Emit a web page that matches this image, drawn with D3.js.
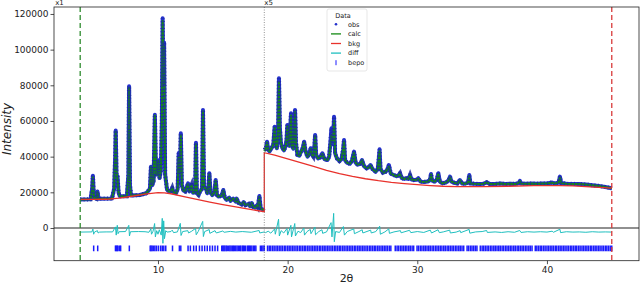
<!DOCTYPE html>
<html>
<head>
<meta charset="utf-8">
<script src="https://cdn.jsdelivr.net/npm/d3@7/dist/d3.min.js"></script>
<style>
  body { margin: 0; background: #fff; }
  svg { display: block; font-family: "DejaVu Sans", sans-serif; }
</style>
</head>
<body>
<div id="chart"></div>
<script>
// powder pattern: [2theta, obs, calc]
// (values above the break at 18.2 are the displayed x5 values)
const profile = [
  [4.00,16000,16000],[4.80,16100,16100],[4.92,22000,21500],[4.98,29300,28500],[5.06,17000,17000],
  [5.25,16400,16400],[5.33,20400,20000],[5.42,16400,16400],[6.45,16500,16500],[6.62,22000,22000],
  [6.70,40000,42000],[6.74,54600,54000],[6.80,30000,32000],[6.88,28800,27000],[6.96,20000,20000],
  [7.05,17800,17800],[7.60,17800,17800],[7.72,30000,30000],[7.77,79500,78500],[7.84,24000,24000],
  [7.92,18200,18200],[8.60,18500,18500],[9.10,19500,19500],[9.38,22000,22000],[9.46,34400,34000],
  [9.55,24000,24000],[9.66,26000,26000],[9.76,63500,63000],[9.85,30000,30000],[9.96,30000,30000],
  [10.03,38000,37500],[10.12,28000,28000],[10.22,32000,32000],[10.30,60000,60000],[10.36,117600,116000],
  [10.42,80000,85000],[10.47,104000,102000],[10.55,30000,30000],[10.70,21500,21500],[10.85,20500,20500],
  [11.00,20800,20800],[11.10,22500,22500],[11.20,20000,20000],[11.40,19500,19500],[11.52,22000,22000],
  [11.60,42000,40000],[11.66,30000,31000],[11.72,40000,40000],[11.76,53100,52000],[11.84,24000,24000],
  [11.96,21000,21000],[12.10,20500,20500],[12.22,23000,23000],[12.32,25000,24500],[12.42,20500,20500],
  [12.50,22500,22500],[12.60,24300,24000],[12.70,19800,19800],[12.86,20000,20000],[12.93,47800,47000],
  [13.00,19500,19500],[13.13,18500,18500],[13.25,20500,20500],[13.40,22000,22000],[13.47,66200,65500],
  [13.55,23000,23000],[13.70,22000,22000],[13.80,19500,19500],[13.90,24000,24000],[13.96,30700,30000],
  [14.05,20000,20000],[14.19,18400,18400],[14.35,20000,20000],[14.45,26900,26500],[14.55,18500,18500],
  [14.65,17600,17600],[14.90,18000,18000],[15.04,21300,21000],[15.15,17000,17000],[15.30,15800,15800],
  [15.50,17000,17000],[15.60,15200,15200],[15.80,16500,16500],[16.00,14800,14800],[16.07,16500,16500],
  [16.20,14200,14200],[16.46,13200,13200],[16.60,14500,14500],[16.75,12800,12800],[17.00,13500,13500],
  [17.10,12200,12200],[17.23,14000,14000],[17.35,11800,11800],[17.48,11400,11400],[17.60,12500,12500],
  [17.70,11500,11500],[17.82,17900,17500],[17.92,11000,11000],[18.05,10500,10500],[18.18,9600,9600],
  [18.20,43700,43000],[18.32,44500,44500],[18.41,48400,48000],[18.50,44000,44000],[18.60,43000,43000],
  [18.78,45000,45000],[18.90,47000,47000],[19.00,56800,56000],[19.10,46000,46000],[19.17,44700,44700],
  [19.26,52000,52000],[19.33,83900,82000],[19.40,56000,56000],[19.48,48000,48000],[19.58,45000,45000],
  [19.72,43500,43500],[19.85,46000,46000],[19.92,50000,50000],[19.98,57800,57000],[20.06,48000,48000],
  [20.14,46000,46000],[20.26,64300,63000],[20.34,46000,46000],[20.44,44500,44500],[20.50,50000,50000],
  [20.57,66200,65000],[20.64,48000,48000],[20.75,41000,41000],[20.90,40500,40500],[21.05,43000,43000],
  [21.18,45000,45000],[21.27,48400,48000],[21.38,43000,43000],[21.53,40000,40000],[21.65,41500,41500],
  [21.78,44700,44300],[21.88,41000,41000],[21.98,40000,40000],[22.05,44000,44000],[22.12,52200,51500],
  [22.20,41000,41000],[22.35,39000,39000],[22.50,39500,39500],[22.68,41900,41500],[22.85,38500,38500],
  [23.07,38100,38100],[23.20,40000,40000],[23.30,48000,47000],[23.38,55900,52000],[23.46,47000,49000],
  [23.52,50000,52000],[23.58,62400,60000],[23.66,42000,42000],[23.80,39000,39000],[24.00,37500,37500],
  [24.15,38500,38500],[24.28,44000,44000],[24.35,49300,48500],[24.43,38000,38000],[24.60,36500,36500],
  [24.80,36000,36000],[24.95,37500,37500],[25.12,42800,42300],[25.25,36500,36500],[25.40,35500,35500],
  [25.60,36000,36000],[25.74,38100,38000],[25.90,34500,34500],[26.10,33500,33500],[26.25,34000,34000],
  [26.39,35300,35000],[26.55,33000,33000],[26.78,31500,31500],[26.95,33000,33000],[27.02,38000,38000],
  [27.09,44100,43000],[27.16,33000,33000],[27.35,31000,31000],[27.55,31500,31500],[27.70,33000,33000],
  [27.81,35300,34500],[27.95,30500,30500],[28.10,30000,30000],[28.40,29000,29000],[28.55,29500,29500],
  [28.67,30700,30500],[28.80,28000,28000],[29.00,27500,27500],[29.20,28000,28000],[29.32,27500,27500],
  [29.44,29700,29500],[29.56,27200,27200],[29.75,26900,26900],[29.95,27000,27000],[30.08,27900,27700],
  [30.25,26000,26000],[30.50,25800,25800],[30.80,26000,26000],[30.98,27000,27000],[31.06,30300,30000],
  [31.14,26500,26500],[31.35,26000,26000],[31.50,27000,27000],[31.62,30700,30300],[31.74,26000,26000],
  [31.95,25000,25000],[32.20,25500,25500],[32.40,26500,26500],[32.52,28800,28500],[32.64,26000,26000],
  [32.90,25200,25200],[33.10,25000,25000],[33.29,26900,26700],[33.45,25000,25000],[33.70,24800,24800],
  [33.92,25500,25500],[34.01,29700,29200],[34.10,25000,25000],[34.40,24800,24800],[34.80,24600,24600],
  [35.10,24800,24800],[35.35,25600,25500],[35.60,24600,24600],[36.00,24700,24700],[36.40,24900,24900],
  [36.80,24600,24600],[37.20,24800,24800],[37.60,24700,24700],[37.85,25300,25300],[37.92,26400,26200],
  [38.00,25000,25000],[38.40,24800,24800],[38.80,24900,24900],[39.20,24800,24800],[39.60,25000,25000],
  [40.00,24900,24900],[40.40,25500,25400],[40.60,24900,24900],[40.90,25500,25500],[41.00,28800,28300],
  [41.10,25200,25200],[41.50,24800,24800],[42.00,24700,24700],[42.50,24600,24600],[43.00,24400,24400],
  [43.50,24000,24000],[44.00,23600,23600],[44.50,23000,23000],[45.00,22300,22300]
];

const background = [
  [4.0,16000],[5.0,16000],[6.0,16100],[7.0,16700],[8.0,17800],[9.0,19000],[10.0,19800],[10.5,19700],
  [11.0,19200],[12.0,17600],[13.0,16000],[14.0,14500],[15.0,13100],[16.0,11800],[17.0,10600],[18.2,9100],
  [18.2,42200],[19,40800],[20,38800],[21,36700],[22,34500],[23,32300],[24,30500],[25,28900],[26,27600],
  [27,26500],[28,25600],[29,24900],[30,24300],[31,23800],[32,23400],[33,23200],[35,23200],[37,23400],
  [39,23700],[41,23800],[42,23600],[43,23200],[44,22800],[45,22300]
];

const difference = [
  [4.0,-2300],[4.9,-2200],[4.98,-600],[5.04,-3500],[5.1,-2300],[5.33,-1500],[5.38,-2800],[5.5,-2300],
  [6.0,-2200],[6.5,-2200],[6.72,600],[6.78,-4000],[6.86,1500],[6.92,-3200],[7.0,-2100],[7.5,-2000],
  [7.75,1500],[7.8,-4500],[7.88,-2100],[8.5,-2000],[9.0,-2100],[9.3,-2400],[9.45,-500],[9.5,-3500],
  [9.62,-1800],[9.74,2500],[9.8,-5000],[9.9,-1500],[10.0,-3500],[10.1,-1000],[10.25,-4000],[10.33,5400],
  [10.38,-8600],[10.44,4000],[10.5,-6000],[10.6,-1500],[10.7,-2300],[11.0,-2000],[11.1,-1200],[11.2,-2600],
  [11.5,-2200],[11.72,2600],[11.78,-4200],[11.9,-2000],[12.3,-1500],[12.36,-2800],[12.6,-1800],[12.9,-200],
  [12.95,-3800],[13.1,-2000],[13.45,3700],[13.5,-4800],[13.6,-2000],[13.95,-900],[14.0,-3000],[14.4,-1500],
  [14.5,-2800],[15.0,-1700],[15.1,-2400],[15.6,-1900],[16.0,-2300],[16.5,-2000],[17.2,-2400],[17.8,-1400],
  [17.85,-2800],[18.2,-2200],[18.3,-2600],[18.5,-1800],[18.7,-2900],[19.0,-500],[19.05,-3500],[19.3,4900],
  [19.36,-4500],[19.5,-1500],[19.7,-2800],[19.95,-300],[20.0,-4000],[20.25,1500],[20.3,-5000],[20.55,2500],
  [20.6,-4500],[20.8,-1800],[21.0,-2600],[21.25,0],[21.3,-4000],[21.5,-2000],[21.75,-800],[21.8,-3200],
  [22.1,500],[22.15,-3800],[22.4,-2000],[22.65,-1000],[22.7,-3000],[23.0,-2200],[23.35,3000],[23.42,-5000],
  [23.55,8200],[23.6,-7700],[23.7,-2000],[24.0,-2500],[24.3,800],[24.38,-4000],[24.6,-2000],[25.1,-500],
  [25.15,-3200],[25.5,-2000],[25.75,-1000],[25.8,-2800],[26.4,-1200],[26.45,-2800],[26.8,-2000],[27.1,1000],
  [27.15,-3500],[27.5,-2200],[27.8,-500],[27.85,-3000],[28.2,-2200],[28.7,-1500],[28.75,-2700],[29.4,-1300],
  [29.5,-2600],[30.0,-2000],[30.5,-2500],[31.0,-1200],[31.1,-2800],[31.6,-1000],[31.7,-2600],[32.0,-2200],
  [32.5,-1200],[32.55,-2800],[33.0,-2300],[33.3,-1500],[33.35,-2600],[34.0,-800],[34.05,-2900],[34.5,-2200],
  [35.0,-2000],[35.35,-1400],[35.4,-2500],[36.0,-2200],[36.5,-2500],[37.0,-2100],[37.5,-2400],[37.9,-1400],
  [38.0,-2500],[38.5,-2100],[39.0,-2300],[39.5,-2100],[40.0,-2300],[40.4,-1800],[40.5,-2400],[41.0,-700],
  [41.05,-2600],[41.5,-2100],[42.0,-2300],[42.5,-2200],[43.0,-2400],[43.5,-2100],[44.0,-2300],[44.5,-2200],
  [45.0,-2300]
];

// bepo reflection positions (2theta)
const reflections = [
  5.04,5.35,6.72,6.78,6.86,6.92,7.05,7.12,7.79,9.40,9.47,9.55,9.65,9.76,9.88,10.03,10.20,10.33,10.45,10.60,
  11.12,11.65,11.76,12.32,12.50,12.75,12.95,13.20,13.40,13.60,13.80,14.00,14.20,14.40,14.60,
  14.92,15.00,15.08,15.16,15.26,15.34,15.46,15.55,15.64,15.74,15.82,15.90,16.00,16.10,16.20,16.30,16.38,
  16.50,16.58,16.66,16.76,16.90,16.98,17.06,17.14,17.24,17.36,17.45,17.55,17.90,18.00,18.10,18.20,
  18.45,18.58,18.70,18.84,18.96,19.10,19.22,19.35,19.48,19.60,19.74,19.86,20.00,20.12,20.25,20.38,20.50,
  20.64,20.76,20.90,21.02,21.15,21.28,21.40,21.54,21.66,21.80,21.92,22.05,22.18,22.30,22.44,22.56,22.70,
  22.82,22.95,23.08,23.20,23.34,23.46,23.60,23.72,23.85,23.98,24.10,24.24,24.36,24.50,24.62,24.75,24.88,
  25.00,25.14,25.26,25.40,25.52,25.65,25.78,25.90,26.04,26.16,26.30,26.42,26.55,26.68,26.80,26.94,27.06,
  27.20,27.32,27.45,27.58,27.70,27.84,27.96,28.30,28.44,28.56,28.70,28.82,28.95,29.08,29.20,29.34,29.46,
  29.60,29.72,29.98,30.10,30.24,30.36,30.50,30.62,30.75,30.88,31.00,31.14,31.26,31.40,31.52,31.65,31.78,
  31.90,32.04,32.16,32.30,32.42,32.55,32.68,32.80,32.94,33.06,33.20,33.32,33.45,33.58,33.84,33.96,34.10,
  34.22,34.35,34.48,34.60,34.86,35.00,35.12,35.25,35.38,35.50,35.64,35.76,35.90,36.02,36.15,36.28,36.40,
  36.54,36.66,36.80,36.92,37.05,37.18,37.30,37.44,37.56,37.70,37.82,37.95,38.08,38.20,38.34,38.46,38.60,
  38.72,38.85,39.10,39.22,39.35,39.48,39.60,39.74,39.86,40.00,40.12,40.25,40.38,40.50,40.64,40.76,40.90,
  41.02,41.15,41.28,41.40,41.54,41.66,41.80,41.92,42.05,42.18,42.30,42.44,42.56,42.70,42.82,42.95,43.08,
  43.20,43.34,43.46,43.60,43.72,43.85,43.98,44.10,44.24,44.36,44.50,44.62,44.75,44.88,45.00
];

const xTicks = [10, 20, 30, 40];
const yTicks = [0, 20000, 40000, 60000, 80000, 100000, 120000];
const legendNames = ["obs", "calc", "bkg", "diff", "bepo"];
const scaleBreak = 18.2;
const rangeLimits = [4.0, 45.0];

const W = 640, H = 285;
const margin = { top: 7, right: 1, bottom: 24.3, left: 54 };

const svg = d3.select("#chart").append("svg")
  .attr("width", W).attr("height", H);

const x = d3.scaleLinear().domain([1.98, 47.1]).range([margin.left, W - margin.right]);
const y = d3.scaleLinear().domain([-18340, 123900]).range([H - margin.bottom, margin.top]);

svg.append("defs").append("clipPath").attr("id", "clip")
  .append("rect")
  .attr("x", margin.left).attr("y", margin.top)
  .attr("width", W - margin.left - margin.right)
  .attr("height", H - margin.top - margin.bottom);

const plot = svg.append("g").attr("clip-path", "url(#clip)");

// reflection ticks
plot.append("g").selectAll("line")
  .data(reflections)
  .join("line")
  .attr("x1", d => x(d)).attr("x2", d => x(d))
  .attr("y1", y(-9800)).attr("y2", y(-13100))
  .attr("stroke", "#1a1aff").attr("stroke-width", 1.5);

// zero line
plot.append("line")
  .attr("x1", margin.left).attr("x2", W - margin.right)
  .attr("y1", y(0)).attr("y2", y(0))
  .attr("stroke", "#222").attr("stroke-width", 1.2);

// difference curve
plot.append("path")
  .datum(difference)
  .attr("fill", "none")
  .attr("stroke", "#1fbfbf").attr("stroke-width", 1)
  .attr("d", d3.line().x(d => x(d[0])).y(d => y(d[1])));

const lowPart = profile.filter(d => d[0] < scaleBreak);
const highPart = profile.filter(d => d[0] >= scaleBreak);
const obsLine = d3.line().x(d => x(d[0])).y(d => y(d[1]));
const calcLine = d3.line().x(d => x(d[0])).y(d => y(d[2]));

[lowPart, highPart].forEach(part => {
  // observed points: dense markers form a band
  plot.append("path").datum(part)
    .attr("fill", "none").attr("stroke", "#2431cc")
    .attr("stroke-width", 4).attr("stroke-linejoin", "round")
    .attr("d", obsLine);
  plot.append("path").datum(part)
    .attr("fill", "none").attr("stroke", "#158a15")
    .attr("stroke-width", 2).attr("stroke-linejoin", "round")
    .attr("d", calcLine);
  plot.append("path").datum(part)
    .attr("fill", "none").attr("stroke", "#1c2d9e").attr("stroke-opacity", 0.85)
    .attr("stroke-width", 4.2).attr("stroke-dasharray", "1 2.4")
    .attr("d", obsLine);
});

// background
plot.append("path")
  .datum(background)
  .attr("fill", "none")
  .attr("stroke", "#e8322c").attr("stroke-width", 1.3)
  .attr("d", d3.line().x(d => x(d[0])).y(d => y(d[1])));

// limit lines and scale break marker
const yTop = margin.top, yBot = H - margin.bottom;
plot.append("line")
  .attr("x1", x(rangeLimits[0])).attr("x2", x(rangeLimits[0]))
  .attr("y1", yTop).attr("y2", yBot)
  .attr("stroke", "#2e8b2e").attr("stroke-width", 1.3).attr("stroke-dasharray", "5 3");
plot.append("line")
  .attr("x1", x(rangeLimits[1])).attr("x2", x(rangeLimits[1]))
  .attr("y1", yTop).attr("y2", yBot)
  .attr("stroke", "#d83a3a").attr("stroke-width", 1.3).attr("stroke-dasharray", "5 3");
plot.append("line")
  .attr("x1", x(scaleBreak)).attr("x2", x(scaleBreak))
  .attr("y1", yTop).attr("y2", yBot)
  .attr("stroke", "#777").attr("stroke-width", 0.8).attr("stroke-dasharray", "1 1.5");

svg.append("text").attr("x", x(rangeLimits[0]) - 25).attr("y", 5)
  .attr("font-size", 7).attr("fill", "#222").text("x1");
svg.append("text").attr("x", x(scaleBreak)).attr("y", 5)
  .attr("font-size", 7).attr("fill", "#222").text("x5");

// axes
const xAxis = svg.append("g")
  .attr("transform", "translate(0," + yBot + ")")
  .call(d3.axisBottom(x).tickValues(xTicks).tickSize(3.5).tickPadding(2).tickFormat(d3.format("d")));
const yAxis = svg.append("g")
  .attr("transform", "translate(" + margin.left + ",0)")
  .call(d3.axisLeft(y).tickValues(yTicks).tickSize(3.5).tickPadding(2).tickFormat(d3.format("d")));
[xAxis, yAxis].forEach(a => {
  a.select(".domain").remove();
  a.selectAll("text").attr("font-size", 9).attr("font-family", "DejaVu Sans").attr("fill", "#222");
  a.selectAll("line").attr("stroke", "#222").attr("stroke-width", 0.8);
});

svg.append("rect")
  .attr("x", margin.left).attr("y", margin.top)
  .attr("width", W - margin.left - margin.right)
  .attr("height", H - margin.top - margin.bottom)
  .attr("fill", "none").attr("stroke", "#222").attr("stroke-width", 0.8);

svg.append("text")
  .attr("x", (margin.left + W - margin.right) / 2).attr("y", 282)
  .attr("text-anchor", "middle").attr("font-size", 11).attr("fill", "#222")
  .text("2θ");
svg.append("text")
  .attr("transform", "translate(11," + 129 + ") rotate(-90)")
  .attr("text-anchor", "middle").attr("font-size", 12).attr("font-style", "italic").attr("fill", "#222")
  .text("Intensity");

// legend
const lg = svg.append("g").attr("transform", "translate(327,9)");
lg.append("rect").attr("width", 40).attr("height", 62).attr("rx", 2)
  .attr("fill", "#fff").attr("fill-opacity", 0.85).attr("stroke", "#ddd").attr("stroke-width", 0.7);
lg.append("text").attr("x", 16).attr("y", 8.5).attr("text-anchor", "middle")
  .attr("font-size", 6.5).attr("fill", "#222").text("Data");
const legendColors = { obs: "#2431cc", calc: "#158a15", bkg: "#e8322c", diff: "#1fbfbf", bepo: "#1a1aff" };
legendNames.forEach((name, i) => {
  const cy = 15.3 + i * 9.6;
  const item = lg.append("g").attr("transform", "translate(0," + cy + ")");
  if (name === "obs") {
    item.append("circle").attr("cx", 9).attr("cy", 0).attr("r", 1.3).attr("fill", legendColors[name]);
  } else if (name === "bepo") {
    item.append("line").attr("x1", 9).attr("x2", 9).attr("y1", -2.5).attr("y2", 2.5)
      .attr("stroke", legendColors[name]).attr("stroke-width", 1);
  } else {
    item.append("line").attr("x1", 4).attr("x2", 14).attr("y1", 0).attr("y2", 0)
      .attr("stroke", legendColors[name]).attr("stroke-width", 1.3);
  }
  item.append("text").attr("x", 21).attr("y", 2.3)
    .attr("font-size", 6.5).attr("fill", "#222").text(name);
});
</script>
</body>
</html>
